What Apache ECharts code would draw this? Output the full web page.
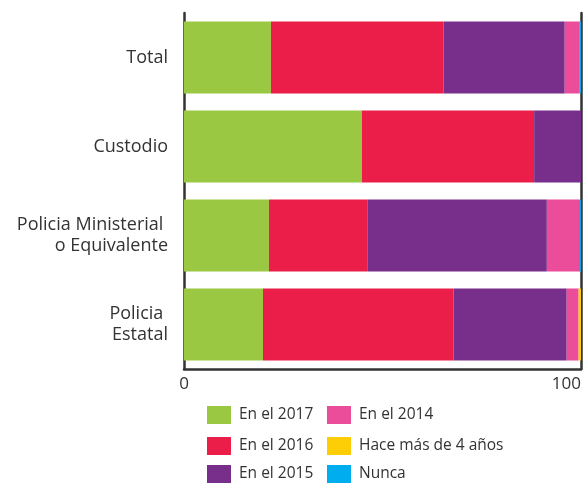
<!DOCTYPE html>
<html><head><meta charset="utf-8">
<script src="https://cdn.jsdelivr.net/npm/echarts@6/dist/echarts.min.js"></script>
<style>html,body{margin:0;padding:0;background:#fff}#c{width:585px;height:485px}</style>
</head><body><div id="c"></div>
<script>
const categories = ['Total', 'Custodio', 'Policia Ministerial \no Equivalente', 'Policia \nEstatal'];
const en2017 = [21.9, 44.8, 21.4, 19.9];
const en2016 = [43.5, 43.4, 24.9, 48.0];
const en2015 = [30.5, 11.8, 45.1, 28.5];
const en2014 = [3.8, 0, 8.1, 3.0];
const masDe4 = [0, 0, 0, 0.6];
const nunca = [0.3, 0, 0.5, 0];
const seriesNames = ['En el 2017', 'En el 2016', 'En el 2015', 'En el 2014', 'Hace más de 4 años', 'Nunca'];
const colors = ['#9BC843', '#EA1E48', '#782F8C', '#EC4D9A', '#FDCD05', '#00AEEF'];
const xTicks = [0, 100];

const values = [en2017, en2016, en2015, en2014, masDe4, nunca];
const chart = echarts.init(document.getElementById('c'));
const font = '"Open Sans", Lato, sans-serif';
const legendPos = [[207, 406], [207, 437], [207, 465], [327, 406], [327, 437], [327, 465]];
chart.setOption({
  animation: false,
  textStyle: { fontFamily: font },
  grid: { left: 184, right: 4, top: 13, bottom: 116 },
  xAxis: {
    type: 'value', min: xTicks[0], max: xTicks[1], interval: 100,
    axisLine: { show: true, lineStyle: { color: '#333', width: 2.5 } },
    axisTick: { show: false },
    splitLine: { show: false },
    axisLabel: { color: '#333', fontSize: 17, margin: 7, fontFamily: font, alignMaxLabel: 'right' }
  },
  yAxis: [{
    type: 'category', data: categories, inverse: true,
    axisLine: { show: true, lineStyle: { color: '#333', width: 2.5 } },
    axisTick: { show: false },
    axisLabel: { color: '#333', fontSize: 18, margin: 16, lineHeight: 21, fontFamily: font, align: 'right' }
  }, {
    type: 'category', data: categories, inverse: true, position: 'right',
    axisLine: { show: true, lineStyle: { color: '#333', width: 2.5 } },
    axisTick: { show: false }, axisLabel: { show: false }
  }],
  legend: seriesNames.map((n, i) => ({
    data: [n], left: legendPos[i][0], top: legendPos[i][1], padding: 0,
    itemWidth: 24, itemHeight: 18,
    textStyle: { color: '#333', fontSize: 15.5, fontFamily: font, padding: [0, 0, 0, 3] },
    icon: 'rect'
  })),
  series: seriesNames.map((n, i) => ({
    name: n, type: 'bar', stack: 'a', data: values[i], barWidth: 72,
    itemStyle: { color: colors[i] }
  }))
});
</script></body></html>
